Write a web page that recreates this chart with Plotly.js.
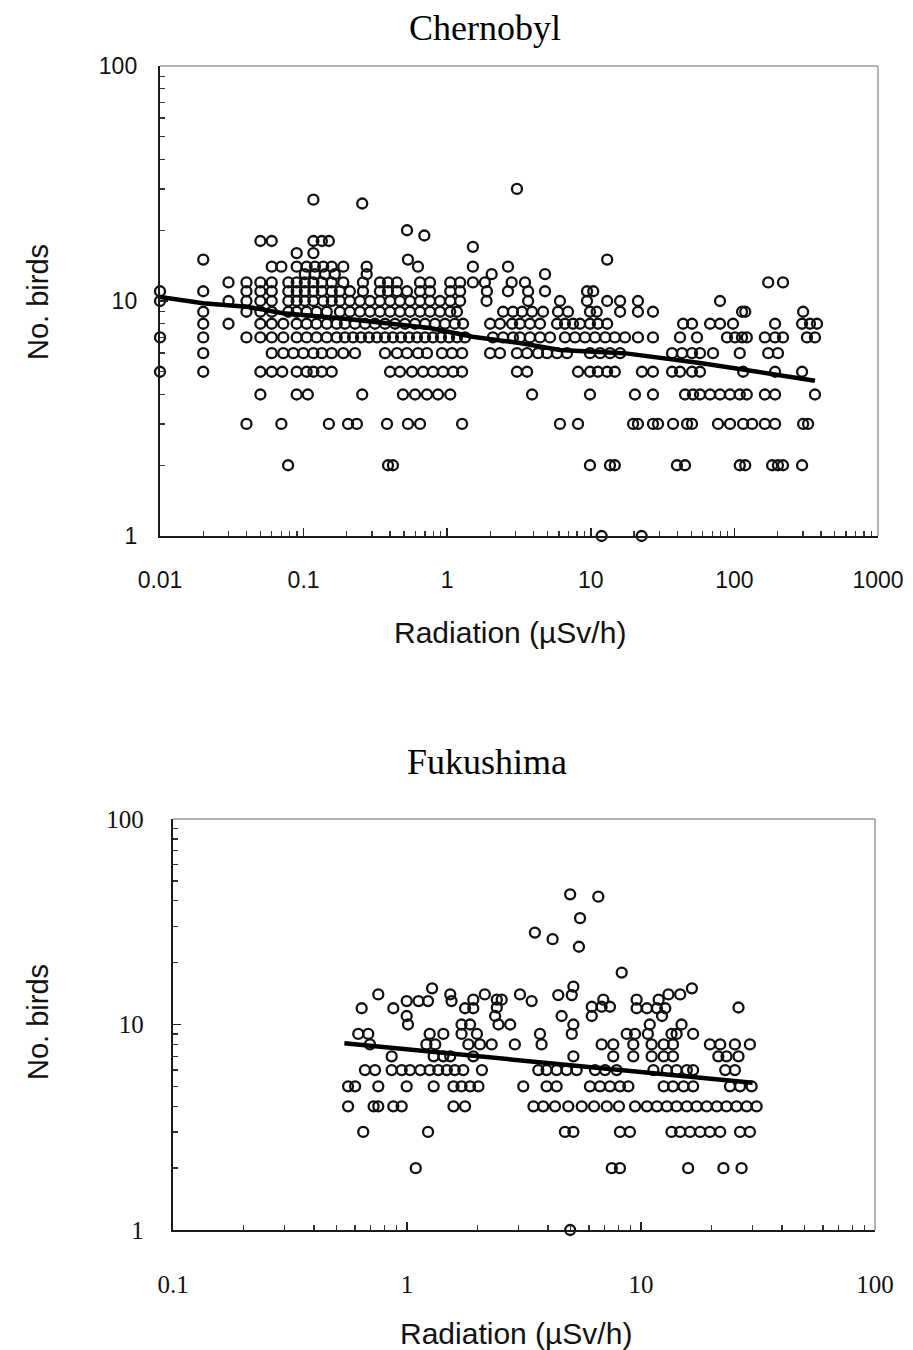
<!DOCTYPE html>
<html>
<head>
<meta charset="utf-8">
<script src="https://cdn.plot.ly/plotly-3.0.1.min.js"></script>
<style>html,body{margin:0;padding:0;background:#fff;}#chart{width:913px;height:1350px;}</style>
</head>
<body>
<div id="chart"></div>
<script>
// ---------- Chernobyl: radiation (uSv/h) values grouped by number of birds ----------
const ch_y1 = [11.9, 22.6];
const ch_y2 = [0.078, 0.387, 0.419, 9.87, 13.6, 14.7, 39.8, 45.3, 109, 119, 183, 201, 218, 296];
const ch_y3 = [0.040, 0.070, 0.150, 0.204, 0.235, 0.381, 0.533, 0.647, 1.27, 6.10, 8.15, 19.7, 21.3, 27.1, 29.4, 37.4, 46.8, 50.7, 76.9, 93.2, 115, 133, 163, 192, 301, 326];
const ch_y4 = [0.050, 0.0895, 0.107, 0.256, 0.492, 0.597, 0.723, 0.863, 1.05, 3.90, 9.87, 20.3, 27.1, 45.3, 51.5, 57.6, 67.7, 79.4, 93.2, 109, 122, 163, 192, 364];
const ch_y5 = [0.01, 0.02, 0.050, 0.060, 0.071, 0.0895, 0.105, 0.117, 0.134, 0.157, 0.40, 0.469, 0.569, 0.678, 0.796, 0.935, 1.10, 1.27, 3.06, 3.60, 8.15, 9.87, 11.2, 13.0, 14.7, 22.7, 27.1, 36.8, 41.8, 50.7, 57.6, 115, 192, 296];
const ch_y6 = [0.02, 0.060, 0.0722, 0.0848, 0.0995, 0.117, 0.134, 0.157, 0.189, 0.228, 0.369, 0.447, 0.525, 0.626, 0.723, 0.920, 1.08, 1.27, 1.99, 2.33, 3.06, 3.60, 4.29, 4.96, 5.82, 6.83, 9.87, 11.6, 13.6, 16.0, 36.8, 43.2, 50.7, 57.6, 71.0, 109, 172, 201];
const ch_y7 = [0.01, 0.02, 0.040, 0.050, 0.060, 0.0722, 0.0895, 0.105, 0.123, 0.145, 0.170, 0.194, 0.221, 0.251, 0.285, 0.324, 0.369, 0.419, 0.477, 0.542, 0.616, 0.701, 0.796, 0.905, 1.03, 1.17, 1.33, 2.08, 2.45, 2.87, 3.21, 3.77, 4.43, 5.20, 6.61, 7.76, 9.11, 10.7, 12.6, 14.7, 17.3, 21.3, 27.1, 41.8, 54.9, 88.8, 101, 113, 122, 163, 192, 218, 320, 364];
const ch_y8 = [0.02, 0.03, 0.050, 0.060, 0.0722, 0.0895, 0.105, 0.123, 0.145, 0.170, 0.194, 0.228, 0.268, 0.314, 0.369, 0.433, 0.508, 0.597, 0.701, 0.822, 0.965, 1.13, 1.29, 1.99, 2.33, 2.83, 3.21, 3.77, 4.43, 5.82, 6.61, 7.52, 8.41, 9.87, 11.2, 13.0, 43.9, 50.7, 67.7, 79.4, 97.8, 192, 296, 336, 376];
const ch_y9 = [0.02, 0.040, 0.050, 0.060, 0.0783, 0.0895, 0.105, 0.123, 0.145, 0.179, 0.210, 0.247, 0.290, 0.340, 0.40, 0.469, 0.551, 0.647, 0.759, 0.891, 1.05, 1.17, 2.45, 2.87, 3.32, 3.90, 4.65, 5.91, 6.94, 9.87, 11.0, 16.0, 21.3, 27.1, 113, 119, 301];
const ch_y10 = [0.01, 0.03, 0.040, 0.050, 0.060, 0.0783, 0.0895, 0.102, 0.117, 0.137, 0.157, 0.179, 0.21, 0.247, 0.29, 0.34, 0.40, 0.469, 0.551, 0.647, 0.759, 0.891, 1.05, 1.23, 1.88, 3.66, 6.10, 9.41, 13.0, 16.0, 21.3, 79.4];
const ch_y11 = [0.01, 0.02, 0.040, 0.050, 0.060, 0.0783, 0.0895, 0.102, 0.117, 0.134, 0.157, 0.179, 0.21, 0.259, 0.34, 0.387, 0.447, 0.525, 0.647, 0.759, 1.05, 1.23, 1.89, 2.65, 3.66, 4.80, 9.41, 10.4];
const ch_y12 = [0.03, 0.040, 0.050, 0.060, 0.0783, 0.0895, 0.102, 0.117, 0.134, 0.157, 0.189, 0.259, 0.34, 0.387, 0.447, 0.647, 0.759, 1.05, 1.23, 1.51, 1.83, 2.81, 3.48, 172, 218];
const ch_y13 = [0.102, 0.12, 0.141, 0.165, 0.275, 2.04, 4.80];
const ch_y14 = [0.060, 0.070, 0.0895, 0.105, 0.12, 0.137, 0.157, 0.189, 0.275, 0.626, 1.51, 2.65];
const ch_y15 = [0.02, 0.533, 13.0];
const ch_y16 = [0.0895, 0.117];
const ch_y17 = [1.51];
const ch_y18 = [0.050, 0.060, 0.117, 0.134, 0.150];
const ch_y19 = [0.693];
const ch_y20 = [0.525];
const ch_y26 = [0.256];
const ch_y27 = [0.117];
const ch_y30 = [3.06];
const chFitX = [0.01, 0.02, 0.04, 0.072, 0.18, 0.76, 1.5, 3.2, 6.1, 17, 57.6, 115, 364];
const chFitY = [10.4, 9.78, 9.46, 8.87, 8.44, 7.68, 7.05, 6.63, 6.19, 6.0, 5.45, 5.09, 4.58];

// ---------- Fukushima ----------
const fk_y1 = [4.98];
const fk_y2 = [1.09, 7.5, 8.13, 15.9, 22.5, 26.9];
const fk_y3 = [0.65, 1.23, 4.73, 5.14, 8.13, 8.97, 13.5, 14.7, 16.2, 17.9, 19.7, 21.8, 26.5, 29.2];
const fk_y4 = [0.56, 0.72, 0.754, 0.874, 0.949, 1.58, 1.77, 3.47, 3.82, 4.29, 4.89, 5.58, 6.3, 7.14, 8.05, 9.43, 10.6, 11.7, 12.9, 14.2, 15.7, 17.3, 19.1, 21.1, 23.2, 25.6, 28.3, 31.2];
const fk_y5 = [0.56, 0.60, 0.754, 0.997, 1.30, 1.58, 1.71, 1.86, 2.02, 3.14, 3.95, 4.36, 6.05, 6.68, 7.37, 8.13, 8.83, 12.5, 13.7, 15.2, 16.7, 24.0, 26.5, 29.7];
const fk_y6 = [0.661, 0.73, 0.86, 0.949, 1.03, 1.14, 1.25, 1.36, 1.48, 1.60, 1.74, 2.09, 3.64, 3.95, 4.36, 4.81, 5.31, 6.36, 7.02, 7.87, 11.3, 12.9, 14.2, 15.7, 16.7, 22.9, 25.2];
const fk_y7 = [0.86, 1.30, 1.43, 1.53, 1.92, 5.14, 7.61, 9.27, 11.1, 12.5, 13.7, 21.4, 23.2, 26.1];
const fk_y8 = [0.695, 1.21, 1.32, 1.83, 2.05, 2.30, 2.89, 3.76, 6.79, 7.61, 9.27, 11.1, 12.5, 13.7, 19.7, 21.8, 25.2, 29.2];
const fk_y9 = [0.619, 0.683, 1.25, 1.43, 1.71, 1.99, 3.70, 5.06, 8.69, 9.43, 10.7, 13.5, 14.2, 16.7];
const fk_y10 = [1.01, 1.71, 1.86, 2.46, 2.76, 5.14, 10.9, 14.9];
const fkUpperX = [0.64, 0.754, 0.874, 0.997, 1.12, 1.23, 1.28, 1.53, 1.55, 1.77, 1.92, 1.92, 2.15, 2.42, 2.54, 2.42, 2.38, 0.997, 3.04, 3.41, 3.52, 4.43, 5.06, 5.14, 4.58, 4.98, 6.57, 5.49, 4.19, 5.43, 8.27, 6.16, 6.79, 7.37, 6.9, 6.16, 9.58, 9.58, 10.6, 11.7, 11.9, 13.1, 14.7, 16.5, 12.7, 12.3, 26.1];
const fkUpperY = [12.0, 14.0, 12.0, 13.0, 13.0, 13.0, 15.0, 14.0, 13.0, 12.0, 12.0, 13.2, 14.0, 13.2, 13.2, 12.1, 11.0, 11.0, 14.0, 13.0, 28, 13.9, 13.9, 15.3, 11.0, 43, 41.9, 32.9, 26.0, 23.9, 17.9, 12.2, 12.2, 12.2, 13.2, 11.0, 13.2, 12.0, 12.0, 12.0, 13.2, 14.0, 14.0, 15.0, 12.0, 11.0, 12.1];
const fkFitX = [0.54, 30];
const fkFitY = [8.1, 5.2];

// ---------- build point lists ----------
function collect(groups) {
  const xs = [], ys = [];
  groups.forEach(g => g[1].forEach(v => { xs.push(v); ys.push(g[0]); }));
  return [xs, ys];
}
const [chX, chY] = collect([[1, ch_y1], [2, ch_y2], [3, ch_y3], [4, ch_y4], [5, ch_y5], [6, ch_y6], [7, ch_y7], [8, ch_y8], [9, ch_y9], [10, ch_y10], [11, ch_y11], [12, ch_y12], [13, ch_y13], [14, ch_y14], [15, ch_y15], [16, ch_y16], [17, ch_y17], [18, ch_y18], [19, ch_y19], [20, ch_y20], [26, ch_y26], [27, ch_y27], [30, ch_y30]]);
const [fkX0, fkY0] = collect([[1, fk_y1], [2, fk_y2], [3, fk_y3], [4, fk_y4], [5, fk_y5], [6, fk_y6], [7, fk_y7], [8, fk_y8], [9, fk_y9], [10, fk_y10]]);
const fkX = fkX0.concat(fkUpperX), fkY = fkY0.concat(fkUpperY);

const markerStyle = {symbol: 'circle-open', size: 10, color: '#111', line: {width: 2.3}};

const traces = [
  {x: chX, y: chY, type: 'scatter', mode: 'markers', marker: markerStyle, xaxis: 'x', yaxis: 'y', cliponaxis: false, hoverinfo: 'x+y'},
  {x: chFitX, y: chFitY, type: 'scatter', mode: 'lines', line: {color: '#000', width: 4.5}, xaxis: 'x', yaxis: 'y'},
  {x: fkX, y: fkY, type: 'scatter', mode: 'markers', marker: markerStyle, xaxis: 'x2', yaxis: 'y2', cliponaxis: false, hoverinfo: 'x+y'},
  {x: fkFitX, y: fkFitY, type: 'scatter', mode: 'lines', line: {color: '#000', width: 4.5}, xaxis: 'x2', yaxis: 'y2'}
];

function minorVals(lo, hi) {
  const v = [];
  for (let e = lo; e < hi; e++) for (let m = 2; m <= 9; m++) v.push(m * Math.pow(10, e));
  return v;
}

const sans = 'Liberation Sans, Arial, sans-serif';
const serif = 'Liberation Serif, Times New Roman, serif';

function logAxis(range, domain, anchor, tv, tt, font, standoff) {
  return {
    type: 'log', range: range, domain: domain, anchor: anchor,
    tickmode: 'array', tickvals: tv, ticktext: tt,
    ticks: 'inside', ticklen: 8, tickwidth: 1.6, tickcolor: '#222',
    minor: {tickmode: 'array', tickvals: minorVals(range[0], range[1]), ticks: 'inside', ticklen: 5, tickwidth: 1.3, tickcolor: '#333', showgrid: false},
    showline: true, linecolor: '#1a1a1a', linewidth: 2.2, mirror: false,
    showgrid: false, zeroline: false,
    tickfont: font, ticklabelstandoff: standoff, fixedrange: true
  };
}

const topDomX = [160 / 913, 878 / 913], topDomY = [1 - 536 / 1350, 1 - 66 / 1350];
const botDomX = [173 / 913, 875 / 913], botDomY = [1 - 1230 / 1350, 1 - 819 / 1350];

const layout = {
  width: 913, height: 1350,
  margin: {l: 0, r: 0, t: 0, b: 0},
  paper_bgcolor: '#fff', plot_bgcolor: '#fff',
  showlegend: false,
  xaxis: logAxis([-2, 3], topDomX, 'y', [0.01, 0.1, 1, 10, 100, 1000], ['0.01', '0.1', '1', '10', '100', '1000'], {family: sans, size: 23, color: '#111'}, 22),
  yaxis: logAxis([0, 2], topDomY, 'x', [1, 10, 100], ['1', '10', '100'], {family: sans, size: 23, color: '#111'}, 16),
  xaxis2: logAxis([-1, 2], botDomX, 'y2', [0.1, 1, 10, 100], ['0.1', '1', '10', '100'], {family: serif, size: 25, color: '#111'}, 31),
  yaxis2: logAxis([0, 2], botDomY, 'x2', [1, 10, 100], ['1', '10', '100'], {family: serif, size: 25, color: '#111'}, 22),
  shapes: [
    {type: 'line', xref: 'x domain', yref: 'y domain', x0: 0, x1: 1, y0: 1, y1: 1, line: {color: '#9a9a9a', width: 1.5}},
    {type: 'line', xref: 'x domain', yref: 'y domain', x0: 1, x1: 1, y0: 0, y1: 1, line: {color: '#9a9a9a', width: 1.5}},
    {type: 'line', xref: 'x2 domain', yref: 'y2 domain', x0: 0, x1: 1, y0: 1, y1: 1, line: {color: '#9a9a9a', width: 1.5}},
    {type: 'line', xref: 'x2 domain', yref: 'y2 domain', x0: 1, x1: 1, y0: 0, y1: 1, line: {color: '#9a9a9a', width: 1.5}}
  ],
  annotations: [
    {text: 'Chernobyl', xref: 'paper', yref: 'paper', x: 485 / 913, y: 1 - 28 / 1350, xanchor: 'center', yanchor: 'middle', showarrow: false, font: {family: serif, size: 36, color: '#000'}},
    {text: 'No. birds', xref: 'paper', yref: 'paper', x: 38 / 913, y: 1 - 302 / 1350, xanchor: 'center', yanchor: 'middle', textangle: -90, showarrow: false, font: {family: sans, size: 29, color: '#111'}},
    {text: 'Radiation (\u00b5Sv/h)', xref: 'paper', yref: 'paper', x: 510 / 913, y: 1 - 632 / 1350, xanchor: 'center', yanchor: 'middle', showarrow: false, font: {family: sans, size: 30, color: '#111'}},
    {text: 'Fukushima', xref: 'paper', yref: 'paper', x: 487 / 913, y: 1 - 762 / 1350, xanchor: 'center', yanchor: 'middle', showarrow: false, font: {family: serif, size: 36, color: '#000'}},
    {text: 'No. birds', xref: 'paper', yref: 'paper', x: 38 / 913, y: 1 - 1022 / 1350, xanchor: 'center', yanchor: 'middle', textangle: -90, showarrow: false, font: {family: sans, size: 29, color: '#111'}},
    {text: 'Radiation (\u00b5Sv/h)', xref: 'paper', yref: 'paper', x: 516 / 913, y: 1 - 1333 / 1350, xanchor: 'center', yanchor: 'middle', showarrow: false, font: {family: sans, size: 30, color: '#111'}}
  ]
};

Plotly.newPlot('chart', traces, layout, {staticPlot: true, displayModeBar: false});
</script>
</body>
</html>
